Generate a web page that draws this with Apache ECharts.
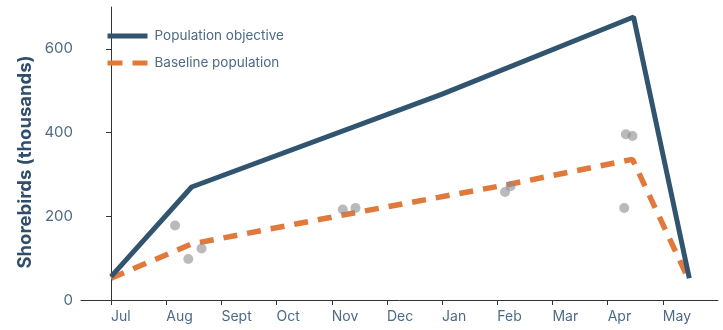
<!DOCTYPE html>
<html>
<head>
<meta charset="utf-8">
<script src="https://cdn.jsdelivr.net/npm/echarts@6/dist/echarts.min.js"></script>
<style>
  html, body { margin: 0; padding: 0; background: #fff; }
  #chart { width: 723px; height: 330px; }
</style>
</head>
<body>
<div id="chart"></div>
<script>
// month ticks (Jul = 0, one unit per month)
const months = ['Jul', 'Aug', 'Sept', 'Oct', 'Nov', 'Dec', 'Jan', 'Feb', 'Mar', 'Apr', 'May'];
const monthTicks = months.map((m, i) => i);
const yTicks = [0, 200, 400, 600];

// Population objective (solid)
const objectiveX = [0, 1.46, 6.0, 9.47, 10.48];
const objectiveY = [56, 270, 492, 676, 52];

// Baseline population (dashed)
const baselineX = [0, 1.46, 4.4, 7.2, 9.45, 10.45];
const baselineY = [52, 134, 208, 276, 336, 54];

// survey counts (grey dots)
const surveyX = [1.16, 1.40, 1.64, 4.20, 4.43, 7.14, 7.24, 9.30, 9.33, 9.45];
const surveyY = [178, 98, 123, 216, 220, 258, 272, 220, 396, 392];

const zip = (xs, ys) => xs.map((x, i) => [x, ys[i]]);

const chart = echarts.init(document.getElementById('chart'));
const textColor = '#4d6a86';
const blue = '#31546f';
const orange = '#e0793b';

const option = {
  animation: false,
  grid: { left: 81, right: 5, top: 7, bottom: 30 },
  legend: {
    orient: 'vertical',
    left: 105,
    top: 29,
    padding: 0,
    itemWidth: 40,
    itemHeight: 14,
    itemGap: 13,
    textStyle: { color: textColor, fontSize: 13.5, fontFamily: 'Inter', padding: [0, 0, 0, 2] },
    data: [
      { name: 'Population objective', itemStyle: { opacity: 0 }, lineStyle: { color: blue, width: 5, type: 'solid' } },
      { name: 'Baseline population', itemStyle: { opacity: 0 }, lineStyle: { color: orange, width: 5, type: [15, 10] } }
    ]
  },
  graphic: [{
    type: 'text',
    x: 25,
    y: 162,
    rotation: Math.PI / 2,
    style: {
      text: 'Shorebirds (thousands)',
      fill: '#2f4e6b',
      font: 'bold 18.5px Inter',
      align: 'center',
      verticalAlign: 'middle'
    }
  }],
  xAxis: {
    type: 'value',
    min: -0.545,
    max: 11.0,
    splitLine: { show: false },
    axisLine: { lineStyle: { color: '#333', width: 1 } },
    axisTick: { show: true, length: 5, customValues: monthTicks, lineStyle: { color: '#333' } },
    axisLabel: {
      customValues: monthTicks,
      formatter: v => months[Math.round(v)],
      align: 'left',
      margin: 10,
      color: textColor,
      fontSize: 14,
      fontFamily: 'Inter'
    }
  },
  yAxis: {
    type: 'value',
    min: 0,
    max: 700,
    splitLine: { show: false },
    axisLine: { show: true, lineStyle: { color: '#333', width: 1 } },
    axisTick: { show: true, length: 5, customValues: yTicks, lineStyle: { color: '#333' } },
    axisLabel: {
      customValues: yTicks,
      margin: 8,
      color: textColor,
      fontSize: 15,
      fontFamily: 'Inter'
    }
  },
  series: [
    {
      name: 'Population objective',
      type: 'line',
      data: zip(objectiveX, objectiveY),
      symbol: 'none',
      lineStyle: { color: blue, width: 5 },
      itemStyle: { color: blue },
      z: 3
    },
    {
      name: 'Baseline population',
      type: 'line',
      data: zip(baselineX, baselineY),
      symbol: 'none',
      lineStyle: { color: orange, width: 5.5, type: [14, 10] },
      itemStyle: { color: orange },
      z: 2
    },
    {
      name: 'Survey counts',
      type: 'scatter',
      data: zip(surveyX, surveyY),
      symbolSize: 10,
      itemStyle: { color: 'rgba(140,140,145,0.75)' },
      z: 4
    }
  ]
};
chart.setOption(option);
</script>
</body>
</html>
